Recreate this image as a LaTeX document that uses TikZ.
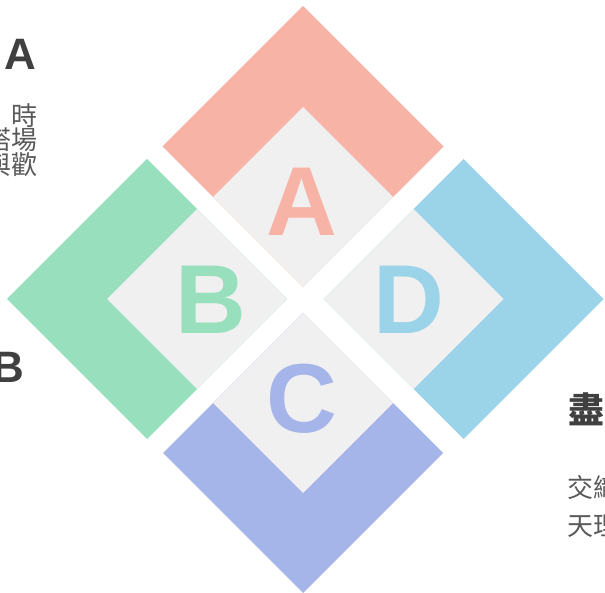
\documentclass[tikz,border=0pt]{standalone}
\usepackage{fontspec}
\setmainfont{Liberation Sans}
\newfontfamily\cjkfont{Noto Sans CJK TC}
\usepackage{tikz}
\definecolor{salmonA}{HTML}{F7B3A6}
\definecolor{greenB}{HTML}{98E0BD}
\definecolor{purpleC}{HTML}{A5B4E9}
\definecolor{blueD}{HTML}{9BD3E9}
\definecolor{paleGray}{HTML}{F0F0F0}
\definecolor{titleGray}{HTML}{404040}
\definecolor{bodyGray}{HTML}{595959}
\tikzset{
	bigletter/.style={inner sep=0pt,font=\fontsize{98}{98}\selectfont\bfseries},
	sidetitle/.style={inner sep=0pt,text=titleGray,font=\bfseries\fontsize{44}{44}\selectfont},
	sidebody/.style={inner sep=0pt,text=bodyGray,font=\cjkfont\fontsize{26}{24}\selectfont}
}

\begin{document}
\begin{tikzpicture}[x=1pt,y=-1pt]
	\useasboundingbox (0,0) rectangle (605,593);
	\clip (0,0) rectangle (605,593);
	\fill[salmonA] (303,6) -- (443.5,146.5) -- (303,287) -- (162.5,146.5) -- cycle;
	\fill[paleGray] (303,107) -- (393,197) -- (303,287) -- (213,197) -- cycle;
	\fill[greenB] (147,159) -- (287,299) -- (147,439) -- (7,299) -- cycle;
	\fill[paleGray] (197,209) -- (287,299) -- (197,389) -- (107,299) -- cycle;
	\fill[purpleC] (303,313) -- (443,453) -- (303,593) -- (163,453) -- cycle;
	\fill[paleGray] (303,313) -- (393,403) -- (303,493) -- (213,403) -- cycle;
	\fill[blueD] (463.5,159) -- (603.5,299) -- (463.5,439) -- (323.5,299) -- cycle;
	\fill[paleGray] (413.5,209) -- (503.5,299) -- (413.5,389) -- (323.5,299) -- cycle;
	\node[bigletter,text=salmonA] (letterA) at (302,202) {A};
	\node[bigletter,text=greenB] (letterB) at (211,299.5) {B};
	\node[bigletter,text=purpleC] (letterC) at (302,399) {C};
	\node[bigletter,text=blueD] (letterD) at (409,299.5) {D};
	\node[sidetitle] (titleA) at (20,54) {A};
	\node[sidetitle,anchor=east] (titleB) at (24,367) {B};
	\node[sidetitle,anchor=west,font=\cjkfont\bfseries\fontsize{36}{36}\selectfont] (titleD) at (568,409) {盡};
	\node[sidebody,anchor=north east,align=right] (bodyA) at (38,103) {時\\搭場\\與歡};
	\node[sidebody,anchor=north west,align=left,font=\cjkfont\fontsize{26}{38}\selectfont] (bodyD) at (567,475) {交織\\天理};
\end{tikzpicture}
\end{document}
